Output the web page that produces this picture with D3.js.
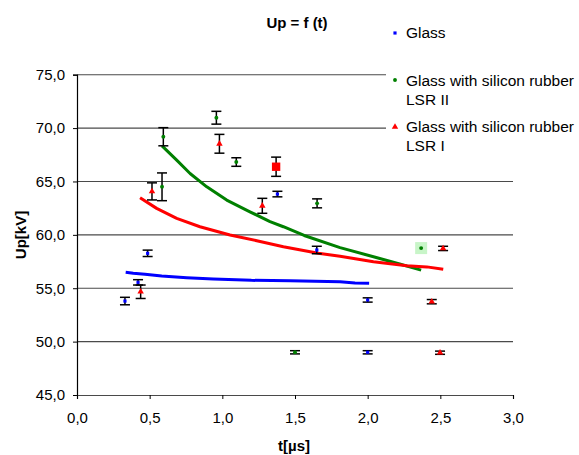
<!DOCTYPE html>
<html>
<head>
<meta charset="utf-8">
<script src="https://d3js.org/d3.v7.min.js"></script>
<style>
  body { margin: 0; background: #fff; }
  svg { font-family: "Liberation Sans", Arial, sans-serif; }
</style>
</head>
<body>
<div id="chart"></div>
<script>
// measured points (t in µs, Up in kV, err = half height of the error bar)
var glassT   = [0.33, 0.42, 0.486, 1.379, 1.65, 2.0, 2.0];
var glassU   = [53.8, 55.55, 58.27, 63.82, 58.58, 53.9, 49.0];
var glassErr = [0.35, 0.25, 0.3, 0.26, 0.35, 0.2, 0.15];

var lsr2T   = [0.585, 0.594, 0.959, 1.096, 1.652, 1.5, 2.368];
var lsr2U   = [64.5, 69.19, 70.97, 66.82, 62.95, 49.0, 58.76];
var lsr2Err = [1.3, 0.85, 0.6, 0.4, 0.42, 0.15, 0];

var lsr1T   = [0.438, 0.516, 0.98, 1.275, 1.37, 2.441, 2.498, 2.519];
var lsr1U   = [54.67, 64.07, 68.53, 62.72, 66.38, 53.74, 48.96, 58.73];
var lsr1Err = [0.63, 0.8, 0.88, 0.7, 0.9, 0.2, 0.15, 0.2];

// trend lines
var glassLineT = [0.335, 0.387, 0.468, 0.583, 0.755, 0.938, 1.2, 1.466, 1.81, 1.913, 2.01];
var glassLineU = [56.49, 56.4, 56.3, 56.14, 55.98, 55.86, 55.74, 55.7, 55.61, 55.5, 55.46];

var lsr2LineT = [0.585, 0.686, 0.778, 0.893, 1.03, 1.19, 1.328, 1.42, 1.563, 1.81, 2.04, 2.22, 2.368];
var lsr2LineU = [68.34, 67.0, 65.75, 64.5, 63.26, 62.16, 61.23, 60.76, 59.94, 58.8, 57.95, 57.27, 56.7];

var lsr1LineT = [0.434, 0.548, 0.686, 0.846, 1.053, 1.237, 1.42, 1.66, 1.81, 2.04, 2.27, 2.407, 2.52];
var lsr1LineU = [63.47, 62.48, 61.54, 60.76, 59.98, 59.45, 58.89, 58.28, 58.0, 57.48, 57.1, 57.0, 56.77];

var xTicks = [0, 0.5, 1, 1.5, 2, 2.5, 3];
var yTicks = [45, 50, 55, 60, 65, 70, 75];

var W = 579, H = 455;
var svg = d3.select("#chart").append("svg").attr("width", W).attr("height", H);

var x = d3.scaleLinear().domain([0, 3]).range([77, 513]);
var y = d3.scaleLinear().domain([45, 75]).range([395, 74.7]);
var fmt = function(v){ return d3.format(".1f")(v).replace(".", ","); };

// gridlines
svg.append("g").selectAll("line").data(yTicks.slice(1)).enter().append("line")
   .attr("x1", x(0)).attr("x2", x(3))
   .attr("y1", d => y(d)).attr("y2", d => y(d))
   .attr("stroke", "#4a4a4a").attr("stroke-width", 1.1);

// axes
var yAxis = svg.append("g").attr("transform", "translate(" + x(0) + ",0)")
   .call(d3.axisLeft(y).tickValues(yTicks).tickFormat(fmt).tickSize(4).tickPadding(8));
var xAxis = svg.append("g").attr("transform", "translate(0," + y(45) + ")")
   .call(d3.axisBottom(x).tickValues(xTicks).tickFormat(fmt).tickSize(4).tickPadding(13));
[xAxis, yAxis].forEach(function(a){
  a.select(".domain").attr("stroke", "#000").attr("stroke-width", 1.2);
  a.selectAll(".tick line").attr("stroke", "#000");
  a.selectAll("text").attr("font-size", 15).attr("fill", "#000")
   .attr("font-family", "Liberation Sans, Arial, sans-serif");
});
xAxis.select(".domain").attr("stroke", "#4a4a4a");

// trend lines
var line = d3.line().x(d => x(d[0])).y(d => y(d[1]));
function drawLine(ts, us, col){
  svg.append("path").datum(ts.map((t, i) => [t, us[i]]))
     .attr("d", line).attr("fill", "none").attr("stroke", col)
     .attr("stroke-width", 3).attr("stroke-linejoin", "round");
}
drawLine(glassLineT, glassLineU, "#0000ff");
drawLine(lsr2LineT, lsr2LineU, "#008000");
drawLine(lsr1LineT, lsr1LineU, "#ff0000");

// error bars
function drawErr(ts, us, es){
  var g = svg.append("g").attr("stroke", "#000").attr("stroke-width", 1.5);
  ts.forEach(function(t, i){
    if (!es[i]) return;
    var cx = x(t), y1 = y(us[i] + es[i]), y2 = y(us[i] - es[i]);
    g.append("line").attr("x1", cx).attr("x2", cx).attr("y1", y1).attr("y2", y2);
    g.append("line").attr("x1", cx - 5).attr("x2", cx + 5).attr("y1", y1).attr("y2", y1);
    g.append("line").attr("x1", cx - 5).attr("x2", cx + 5).attr("y1", y2).attr("y2", y2);
  });
}
drawErr(glassT, glassU, glassErr);
drawErr(lsr2T, lsr2U, lsr2Err);
drawErr(lsr1T, lsr1U, lsr1Err);

// markers
var sqSym = d3.symbol().type(d3.symbolSquare).size(10);
var ciSym = d3.symbol().type(d3.symbolCircle).size(12);
var trSym = d3.symbol().type(d3.symbolTriangle).size(18);

// highlighted green point
svg.append("rect").attr("x", x(2.368) - 6).attr("y", y(58.76) - 6)
   .attr("width", 12).attr("height", 12).attr("fill", "#c8f5c8");

svg.append("g").selectAll("path").data(glassT).enter().append("path")
   .attr("d", sqSym).attr("fill", "#0000ff")
   .attr("transform", (d, i) => "translate(" + x(d) + "," + y(glassU[i]) + ")");
svg.append("g").selectAll("path").data(lsr2T).enter().append("path")
   .attr("d", ciSym).attr("fill", "#008000")
   .attr("transform", (d, i) => "translate(" + x(d) + "," + y(lsr2U[i]) + ")");
svg.append("g").selectAll("path").data(lsr1T).enter().append("path")
   .attr("d", (d, i) => i === 4 ? d3.symbol().type(d3.symbolSquare).size(70)() : trSym())
   .attr("fill", "#ff0000")
   .attr("transform", (d, i) => "translate(" + x(d) + "," + y(lsr1U[i]) + ")");

// legend
svg.append("rect").attr("x", 386).attr("y", 10).attr("width", 193).attr("height", 150).attr("fill", "#fff");
var leg = svg.append("g").attr("font-size", 15.5).attr("fill", "#000");
leg.append("path").attr("d", sqSym).attr("fill", "#0000ff").attr("transform", "translate(395,33)");
leg.append("text").attr("x", 406).attr("y", 38).text("Glass");
leg.append("path").attr("d", ciSym).attr("fill", "#008000").attr("transform", "translate(395,80)");
leg.append("text").attr("x", 406).attr("y", 86).text("Glass with silicon rubber");
leg.append("text").attr("x", 406).attr("y", 105).text("LSR II");
leg.append("path").attr("d", trSym).attr("fill", "#ff0000").attr("transform", "translate(395,127)");
leg.append("text").attr("x", 406).attr("y", 132).text("Glass with silicon rubber");
leg.append("text").attr("x", 406).attr("y", 151).text("LSR I");

// titles
svg.append("text").attr("x", 297).attr("y", 28).attr("text-anchor", "middle")
   .attr("font-size", 15).attr("font-weight", "bold").text("Up = f (t)");
svg.append("text").attr("x", 294).attr("y", 451).attr("text-anchor", "middle")
   .attr("font-size", 15).attr("font-weight", "bold").text("t[µs]");
svg.append("text").attr("transform", "translate(26,235) rotate(-90)").attr("text-anchor", "middle")
   .attr("font-size", 15).attr("font-weight", "bold").text("Up[kV]");
</script>
</body>
</html>
